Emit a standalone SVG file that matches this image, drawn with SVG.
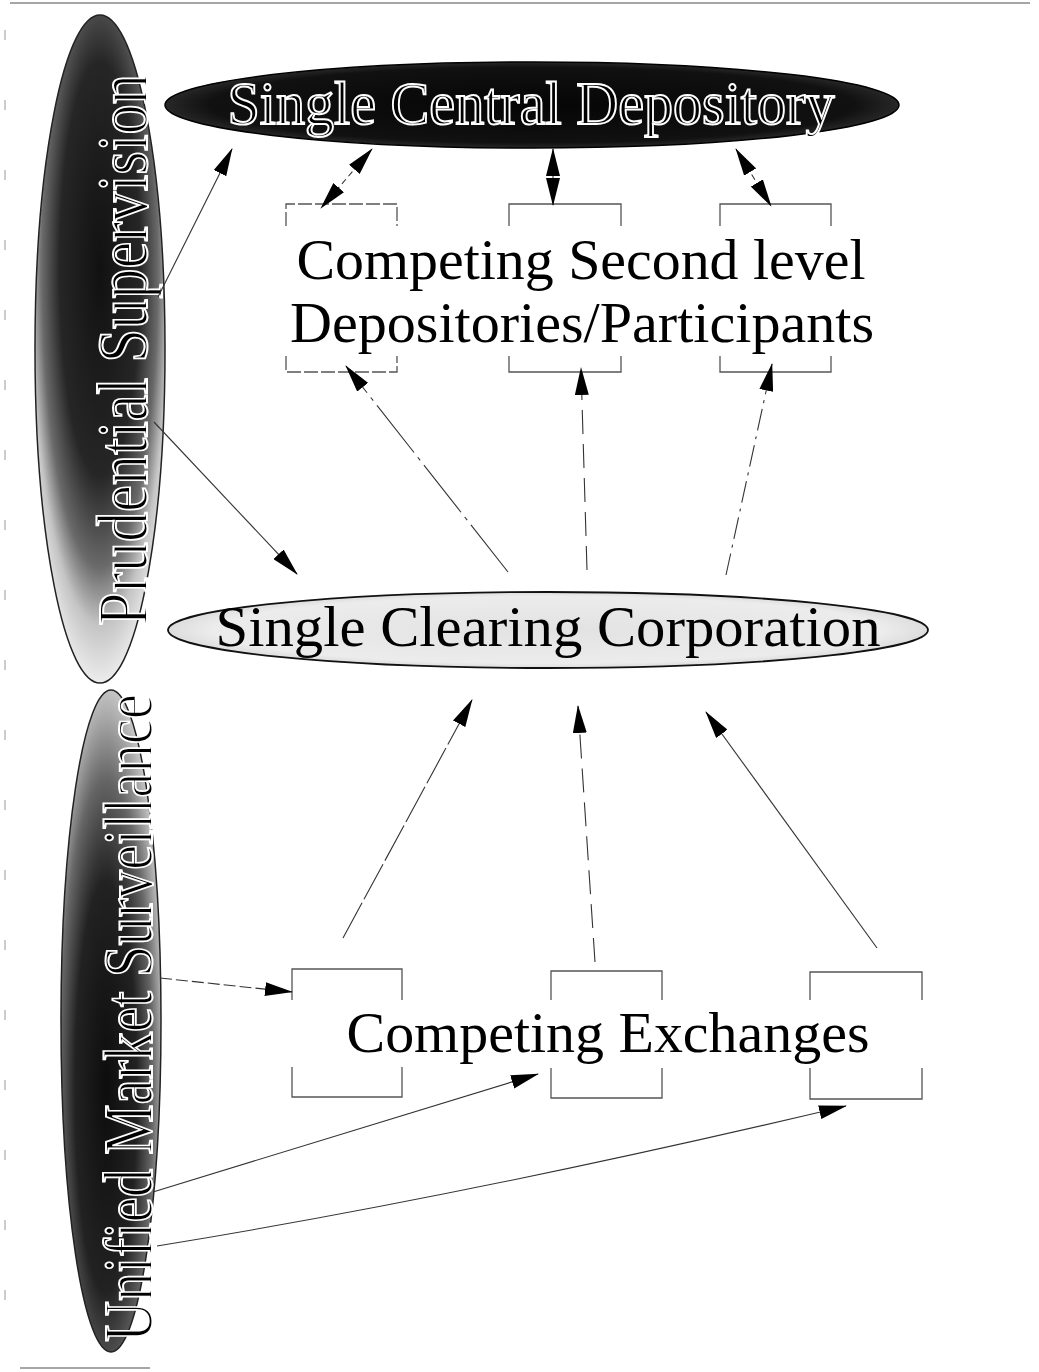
<svg xmlns="http://www.w3.org/2000/svg" width="1039" height="1372" viewBox="0 0 1039 1372">
  <style>
    .serif { font-family: "Liberation Serif", "Times New Roman", serif; }
    .halo { fill: #000; stroke: #fff; stroke-width: 2; }
    .plain { fill: #000; }
    .box { fill: none; stroke: #555; stroke-width: 1.3; }
    .conn { fill: none; stroke: #333; stroke-width: 1.1; }
    .frame { fill: none; stroke: #888; stroke-width: 1.5; }
  </style>
  <defs>
    <marker id="ah" markerUnits="userSpaceOnUse" markerWidth="28" markerHeight="14" refX="27" refY="7" orient="auto-start-reverse">
      <path d="M0,0 L28,7 L0,14 z" fill="#000"/>
    </marker>
    <radialGradient id="gPru" cx="0.5" cy="0.38" r="0.62">
      <stop offset="0" stop-color="#111"/>
      <stop offset="0.5" stop-color="#262626"/>
      <stop offset="0.72" stop-color="#6a6a6a"/>
      <stop offset="0.86" stop-color="#c4c4c4"/>
      <stop offset="1" stop-color="#ececec"/>
    </radialGradient>
    <radialGradient id="gUni" cx="0.45" cy="0.6" r="0.62">
      <stop offset="0" stop-color="#0d0d0d"/>
      <stop offset="0.5" stop-color="#222"/>
      <stop offset="0.75" stop-color="#666"/>
      <stop offset="0.9" stop-color="#a8a8a8"/>
      <stop offset="1" stop-color="#d0d0d0"/>
    </radialGradient>
    <radialGradient id="gCsd" cx="0.5" cy="0.5" r="0.55">
      <stop offset="0" stop-color="#050505"/>
      <stop offset="0.8" stop-color="#111"/>
      <stop offset="1" stop-color="#3a3a3a"/>
    </radialGradient>
    <radialGradient id="gScc" cx="0.5" cy="0.5" r="0.55">
      <stop offset="0" stop-color="#e2e2e2"/>
      <stop offset="0.8" stop-color="#ececec"/>
      <stop offset="1" stop-color="#d0d0d0"/>
    </radialGradient>
  </defs>

  <rect width="1039" height="1372" fill="#fff"/>

  <!-- scan frame remnants -->
  <g id="frame">
    <line class="frame" x1="10" y1="3" x2="1030" y2="3"/>
    <line class="frame" x1="20" y1="1368" x2="150" y2="1368"/>
    <line x1="5" y1="30" x2="5" y2="1340" stroke="#999" stroke-width="1" stroke-dasharray="10 60"/>
  </g>

  <g id="prudential-supervision">
    <ellipse cx="100" cy="349" rx="65" ry="334" fill="url(#gPru)" stroke="#222" stroke-width="1.5"/>
    <text class="serif halo" transform="translate(147,350) rotate(-90)" x="0" y="0" font-size="72" text-anchor="middle" textLength="552" lengthAdjust="spacingAndGlyphs">Prudential Supervision</text>
  </g>

  <g id="unified-market-surveillance">
    <ellipse cx="111" cy="1021" rx="50" ry="331" fill="url(#gUni)" stroke="#222" stroke-width="1.5"/>
    <text class="serif halo" transform="translate(152,1018) rotate(-90)" x="0" y="0" font-size="70" text-anchor="middle" textLength="648" lengthAdjust="spacingAndGlyphs">Unified Market Surveillance</text>
  </g>

  <g id="single-central-depository">
    <ellipse cx="532" cy="105" rx="367" ry="43" fill="url(#gCsd)" stroke="#000" stroke-width="1.5"/>
    <text class="serif halo" x="531" y="124" font-size="62" text-anchor="middle" textLength="607" lengthAdjust="spacingAndGlyphs">Single Central Depository</text>
  </g>

  <g id="single-clearing-corporation">
    <ellipse cx="548" cy="630" rx="380" ry="38" fill="url(#gScc)" stroke="#111" stroke-width="1.8"/>
    <text class="serif plain" x="548" y="646" font-size="57" text-anchor="middle" textLength="665" lengthAdjust="spacingAndGlyphs">Single Clearing Corporation</text>
  </g>

  <g id="second-level-depositories">
    <path class="box" d="M286,226 V204 H397 V226 M286,356 V372 H397 V356" stroke-dasharray="14 3"/>
    <path class="box" d="M509,226 V204 H621 V226 M509,356 V372 H621 V356"/>
    <path class="box" d="M720,226 V204 H831 V226 M720,356 V372 H831 V356"/>
    <text class="serif plain" x="581" y="279" font-size="58" text-anchor="middle" textLength="569" lengthAdjust="spacingAndGlyphs">Competing Second level</text>
    <text class="serif plain" x="582" y="342" font-size="58" text-anchor="middle" textLength="584" lengthAdjust="spacingAndGlyphs">Depositories/Participants</text>
  </g>

  <g id="competing-exchanges">
    <path class="box" d="M292,1000 V969 H402 V1000 M292,1067 V1097 H402 V1067"/>
    <path class="box" d="M551,1000 V971 H662 V1000 M551,1068 V1098 H662 V1068"/>
    <path class="box" d="M810,1000 V972 H922 V1000 M810,1068 V1099 H922 V1068"/>
    <text class="serif plain" x="608" y="1052" font-size="58" text-anchor="middle" textLength="523" lengthAdjust="spacingAndGlyphs">Competing Exchanges</text>
  </g>

  <g id="connectors">
    <!-- Prudential -> Central Depository -->
    <line class="conn" x1="158" y1="297" x2="232" y2="149" marker-end="url(#ah)"/>
    <!-- Central Depository <-> second level boxes -->
    <line class="conn" x1="372" y1="149" x2="321" y2="208" stroke-dasharray="6 4" marker-start="url(#ah)" marker-end="url(#ah)"/>
    <line class="conn" x1="553" y1="149" x2="553" y2="205" marker-start="url(#ah)" marker-end="url(#ah)"/>
    <line class="conn" x1="736" y1="149" x2="771" y2="206" stroke-dasharray="6 4" marker-start="url(#ah)" marker-end="url(#ah)"/>
    <!-- Prudential -> Clearing Corporation -->
    <line class="conn" x1="154" y1="422" x2="297" y2="574" marker-end="url(#ah)"/>
    <!-- Clearing Corporation -> second level boxes -->
    <line class="conn" x1="508" y1="572" x2="346" y2="366" stroke-dasharray="60 6 4 6" marker-end="url(#ah)"/>
    <line class="conn" x1="587" y1="570" x2="581" y2="368" stroke-dasharray="24 10" marker-end="url(#ah)"/>
    <line class="conn" x1="726" y1="575" x2="772" y2="364" stroke-dasharray="22 6 3 6" marker-end="url(#ah)"/>
    <!-- Exchanges -> Clearing Corporation -->
    <line class="conn" x1="343" y1="938" x2="472" y2="700" stroke-dasharray="40 4" marker-end="url(#ah)"/>
    <line class="conn" x1="595" y1="962" x2="578" y2="706" stroke-dasharray="24 10" marker-end="url(#ah)"/>
    <line class="conn" x1="877" y1="948" x2="706" y2="712" marker-end="url(#ah)"/>
    <!-- Unified Market Surveillance -> Exchanges -->
    <line class="conn" x1="160" y1="978" x2="292" y2="992" stroke-dasharray="12 4" marker-end="url(#ah)"/>
    <line class="conn" x1="153" y1="1192" x2="538" y2="1074" marker-end="url(#ah)"/>
    <path class="conn" d="M157,1246 Q470,1195 846,1106" marker-end="url(#ah)"/>
  </g>
</svg>
